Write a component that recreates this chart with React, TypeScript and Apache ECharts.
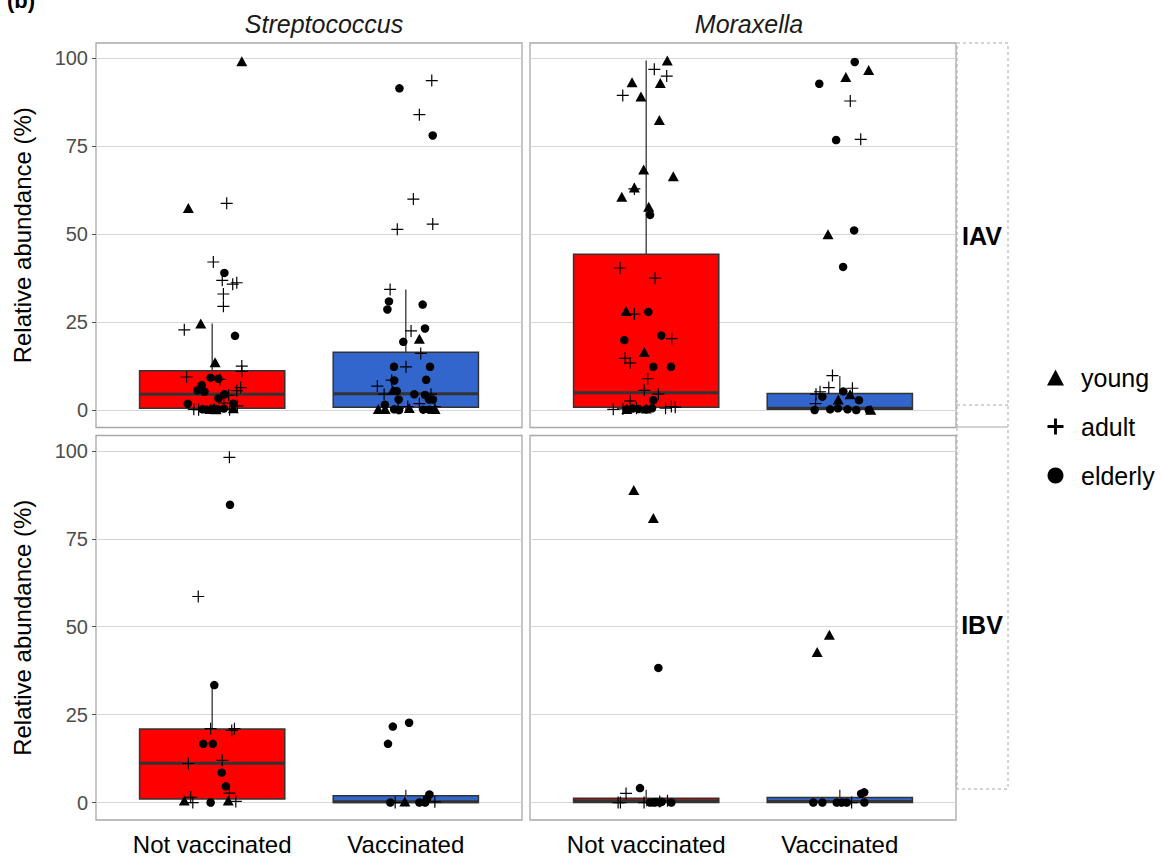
import React, { useEffect, useRef } from 'react';
import * as echarts from 'echarts';

// ---------- data ----------
const categories = ['Not vaccinated', 'Vaccinated'];
const genera = ['Streptococcus', 'Moraxella'];
const viruses = ['IAV', 'IBV'];
const ageGroups = ['young', 'adult', 'elderly'];
const yTicks = [0, 25, 50, 75, 100];
const boxColors = ['#FF0000', '#3366CC'];

// box stats: [category position, lower whisker, Q1, median, Q3, upper whisker]
const strepIAVBox = [[1, 0, 0.5, 4.5, 11.2, 24.6], [2, 0, 0.8, 4.6, 16.4, 34.3]];
const moraxIAVBox = [[1, 0, 0.8, 4.9, 44.3, 99.4], [2, 0, 0.2, 0.5, 4.7, 9.7]];
const strepIBVBox = [[1, 0, 1.0, 11.2, 20.9, 33.5], [2, 0, 0, 0.2, 1.9, 3.6]];
const moraxIBVBox = [[1, 0, 0, 0.4, 1.2, 3.6], [2, 0, 0, 0.3, 1.4, 3.6]];

// jittered points: [x position (category ± jitter), relative abundance %]
const strepIAVYoung = [[1.153, 99.2], [0.877, 57.5], [0.941, 24.6], [1.015, 13.6], [0.99, 0.3], [1.01, 0.6], [1.02, 0.2], [1.109, 0.5],
  [2.07, 20.3], [1.933, 5.7], [1.858, 0.3], [1.893, 0.3], [2.018, 0.6], [2.151, 0.3]];
const strepIAVAdult = [[1.075, 58.8], [1.006, 42.1], [1.052, 36.9], [1.106, 35.8], [1.127, 36.2], [1.058, 33.0], [1.058, 29.5], [0.856, 22.8],
  [1.153, 12.5], [1.153, 11.0], [0.868, 9.4], [1.04, 8.7], [1.147, 6.4], [1.127, 5.5], [1.085, 4.2], [0.905, 0.2], [0.93, 0.1], [1.06, 2.0],
  [1.09, 0.1], [1.13, 1.2],
  [2.134, 93.7], [2.07, 84.0], [2.039, 60.0], [2.139, 52.9], [1.956, 51.4], [1.919, 34.3], [2.027, 22.5], [2.077, 16.1], [2.001, 12.3],
  [1.927, 8.5], [1.853, 6.8], [1.888, 4.5], [2.13, 4.5], [2.01, 1.0], [2.15, 1.0], [2.07, 1.8], [1.96, 0.5]];
const strepIAVElderly = [[1.063, 39.0], [1.118, 21.1], [0.992, 9.2], [1.032, 8.9], [0.946, 7.1], [0.923, 5.6], [0.96, 5.2], [1.063, 4.5],
  [1.032, 3.3], [0.874, 1.8], [1.109, 1.8], [0.95, 0.2], [0.97, 0.1], [1.0, 0.3], [1.03, 0.2], [1.06, 0.4],
  [1.967, 91.5], [2.139, 78.1], [1.913, 30.9], [2.087, 30.0], [1.905, 28.6], [2.099, 23.2], [1.987, 19.4], [1.939, 12.3], [2.125, 12.3],
  [2.105, 8.6], [1.94, 8.4], [1.953, 5.4], [2.044, 4.5], [2.099, 4.3], [1.963, 3.0], [2.12, 3.0], [2.14, 3.0], [1.892, 1.5], [1.94, 0.2],
  [1.965, 0], [2.09, 0.1], [2.12, 0.1]];

const moraxIAVYoung = [[1.109, 99.4], [0.927, 93.2], [1.073, 93.0], [0.973, 89.2], [1.068, 82.5], [0.987, 68.4], [1.14, 66.5], [0.939, 63.3],
  [0.874, 60.7], [1.013, 57.8], [0.896, 28.2], [0.99, 16.5], [0.9, 0.3], [1.0, 0.4],
  [2.149, 96.7], [2.031, 94.7], [1.939, 50.0], [1.992, 3.0], [2.053, 4.5], [2.16, 0.1]];
const moraxIAVAdult = [[1.042, 96.9], [1.106, 95.0], [0.879, 89.5], [0.939, 62.9], [0.865, 40.4], [1.046, 37.5], [0.939, 27.3], [1.132, 20.3],
  [0.891, 14.7], [0.917, 13.4], [1.008, 8.9], [0.99, 5.6], [1.063, 4.5], [0.917, 2.6], [0.83, 0.2], [0.88, 0.3], [0.95, 0.5], [1.1, 0.5],
  [1.13, 1.0], [1.15, 0.8],
  [2.054, 87.9], [2.108, 77.0], [1.962, 9.8], [1.943, 6.4], [1.898, 5.2], [2.065, 6.2], [1.877, 4.5], [1.875, 1.8]];
const moraxIAVElderly = [[1.02, 55.5], [1.011, 27.9], [0.887, 19.9], [1.078, 21.2], [1.037, 12.3], [1.128, 12.3], [1.037, 2.8], [0.9, 0.2],
  [0.93, 0.4], [0.96, 0.3], [1.0, 0.2], [1.03, 0.5],
  [2.077, 99.0], [1.894, 92.8], [1.981, 76.8], [2.074, 51.1], [2.017, 40.7], [2.018, 5.3], [1.91, 3.8], [2.099, 2.8], [1.87, 0.0],
  [1.95, 0.2], [1.99, 0.5], [2.04, 0.2], [2.085, 0], [2.15, 0]];

const strepIBVYoung = [[0.856, 0.6], [1.083, 0.6], [1.995, 0.3]];
const strepIBVAdult = [[1.089, 98.2], [0.928, 58.6], [0.992, 21.0], [1.101, 20.5], [1.115, 21.0], [0.877, 11.1], [1.052, 12.0], [1.089, 2.7],
  [0.889, 1.5], [1.122, 0.3], [0.9, 0.0], [1.945, 0], [2.15, 0.2]];
const strepIBVElderly = [[1.092, 84.7], [1.011, 33.4], [0.954, 16.7], [1.003, 16.7], [1.049, 8.5], [1.071, 4.6], [0.992, 0],
  [1.933, 21.6], [2.017, 22.7], [1.908, 16.7], [2.122, 2.3], [1.92, 0], [2.07, 0], [2.1, 0], [2.11, 1.2]];

const moraxIBVYoung = [[0.936, 88.9], [1.037, 80.9], [1.946, 47.7], [1.883, 42.8]];
const moraxIBVAdult = [[0.896, 2.6], [0.855, 0], [0.867, 0], [0.989, 0], [1.11, 0.5], [1.07, 0.3], [2.061, 0]];
const moraxIBVElderly = [[1.063, 38.3], [0.968, 4.1], [1.02, 0], [1.04, 0], [1.05, 0.1], [1.07, 0], [1.08, 0.2], [1.13, 0],
  [2.126, 2.9], [2.11, 2.5], [1.863, 0], [1.91, 0], [1.984, 0], [2.01, 0], [2.036, 0], [2.127, 0]];

const panels = [
  { box: strepIAVBox, young: strepIAVYoung, adult: strepIAVAdult, elderly: strepIAVElderly },
  { box: moraxIAVBox, young: moraxIAVYoung, adult: moraxIAVAdult, elderly: moraxIAVElderly },
  { box: strepIBVBox, young: strepIBVYoung, adult: strepIBVAdult, elderly: strepIBVElderly },
  { box: moraxIBVBox, young: moraxIBVYoung, adult: moraxIBVAdult, elderly: moraxIBVElderly },
];

// ---------- styling ----------
const FONT = '"Liberation Sans", Arial, Helvetica, sans-serif';
const PLUS = 'path://M0,9H20V11H0ZM9,0H11V20H9Z';
const PLUS_LEGEND = 'path://M0,8.2H20V11.8H0ZM8.2,0H11.8V20H8.2Z';
const symbols: Record<string, any> = { young: 'triangle', adult: PLUS, elderly: 'circle' };
const symbolSizes: Record<string, any> = { young: [11, 10], adult: 12, elderly: 8.5 };

const gridPos = [
  { left: 96, top: 43 },
  { left: 530, top: 43 },
  { left: 96, top: 435.5 },
  { left: 530, top: 435.5 },
];
const GW = 426;
const GH = 384.5;

export default function App() {
  const ref = useRef<HTMLDivElement>(null);
  useEffect(() => {
    if (!ref.current) return;
    const chart = echarts.init(ref.current, null, { renderer: 'svg' });

    const grids = gridPos.map((g) => ({
      left: g.left, top: g.top, width: GW, height: GH,
      show: true, borderColor: '#A8A8A8', borderWidth: 1.3, backgroundColor: 'transparent',
    }));

    const xAxes = gridPos.map((_, i) => {
      const bottom = i >= 2;
      return {
        type: 'value', gridIndex: i, min: 0.4, max: 2.6,
        axisLine: { show: false },
        splitLine: { show: false },
        axisTick: { show: bottom, customValues: [1, 2], length: 4, lineStyle: { color: '#4D4D4D', width: 1 } },
        axisLabel: {
          show: bottom, customValues: [1, 2], margin: 12,
          formatter: (v: number) => categories[Math.round(v) - 1] ?? '',
          fontSize: 24, color: '#000', fontFamily: FONT,
        },
      };
    });

    const yAxes = gridPos.map((_, i) => {
      const left = i % 2 === 0;
      return {
        type: 'value', gridIndex: i, min: -4.97, max: 104.4,
        axisLine: { show: false },
        axisTick: { show: left, customValues: yTicks, length: 4, lineStyle: { color: '#4D4D4D', width: 1 } },
        axisLabel: { show: left, customValues: yTicks, margin: 8, fontSize: 20, color: '#4D4D4D', fontFamily: FONT },
        splitLine: { show: true, lineStyle: { color: '#D6D6D6', width: 1.2 } },
        name: left ? 'Relative abundance (%)' : '',
        nameLocation: 'middle', nameGap: 62,
        nameTextStyle: { fontSize: 24, color: '#000', fontFamily: FONT },
      };
    });

    const series: any[] = [];
    panels.forEach((p, i) => {
      series.push({
        type: 'custom', xAxisIndex: i, yAxisIndex: i, z: 2,
        encode: { x: 0, y: [1, 2, 3, 4, 5] },
        data: p.box,
        renderItem: (_params: any, api: any) => {
          const x = api.value(0);
          const lo = api.value(1), q1 = api.value(2), med = api.value(3), q3 = api.value(4), hi = api.value(5);
          const half = 0.375;
          const tl = api.coord([x - half, q3]);
          const br = api.coord([x + half, q1]);
          const mL = api.coord([x - half, med]);
          const mR = api.coord([x + half, med]);
          const pHi = api.coord([x, hi]);
          const pQ3 = api.coord([x, q3]);
          const pQ1 = api.coord([x, q1]);
          const pLo = api.coord([x, lo]);
          const color = boxColors[Math.round(x) - 1];
          return {
            type: 'group',
            children: [
              { type: 'line', shape: { x1: pHi[0], y1: pHi[1], x2: pQ3[0], y2: pQ3[1] }, style: { stroke: '#333333', lineWidth: 1.3 } },
              { type: 'line', shape: { x1: pQ1[0], y1: pQ1[1], x2: pLo[0], y2: pLo[1] }, style: { stroke: '#333333', lineWidth: 1.3 } },
              { type: 'rect', shape: { x: tl[0], y: tl[1], width: br[0] - tl[0], height: br[1] - tl[1] }, style: { fill: color, stroke: '#333333', lineWidth: 1.5 } },
              { type: 'line', shape: { x1: mL[0], y1: mL[1], x2: mR[0], y2: mR[1] }, style: { stroke: '#333333', lineWidth: 3 } },
            ],
          };
        },
      });
      ageGroups.forEach((g) => {
        series.push({
          type: 'scatter', name: g, xAxisIndex: i, yAxisIndex: i, z: 3,
          symbol: symbols[g], symbolSize: symbolSizes[g],
          itemStyle: { color: '#000', opacity: 1 },
          data: (p as any)[g],
          silent: true,
        });
      });
    });

    const dash = { stroke: '#A6A6A6', lineWidth: 1, lineDash: [3, 3], fill: 'none' };

    const option: any = {
      animation: false,
      backgroundColor: '#ffffff',
      grid: grids,
      xAxis: xAxes,
      yAxis: yAxes,
      legend: {
        orient: 'vertical', left: 1042, top: 359,
        itemWidth: 17, itemHeight: 16, itemGap: 22,
        selectedMode: false,
        textStyle: { fontSize: 25, color: '#000', fontFamily: FONT, lineHeight: 27, padding: [0, 0, 0, 12] },
        data: [
          { name: 'young', icon: 'triangle' },
          { name: 'adult', icon: PLUS_LEGEND },
          { name: 'elderly', icon: 'circle' },
        ],
      },
      graphic: [
        { type: 'text', left: 7, top: -11, style: { text: '(b)', font: `bold 22px ${FONT}`, fill: '#000' } },
        { type: 'text', x: 324, y: 24, style: { text: genera[0], font: `italic 25px ${FONT}`, fill: '#1A1A1A', align: 'center', verticalAlign: 'middle' } },
        { type: 'text', x: 749, y: 24, style: { text: genera[1], font: `italic 25px ${FONT}`, fill: '#1A1A1A', align: 'center', verticalAlign: 'middle' } },
        { type: 'rect', shape: { x: 957, y: 43, width: 51, height: 384 }, style: dash, silent: true },
        { type: 'line', shape: { x1: 957, y1: 405, x2: 1008, y2: 405 }, style: dash, silent: true },
        { type: 'rect', shape: { x: 957, y: 427, width: 51, height: 362 }, style: dash, silent: true },
        { type: 'text', x: 982, y: 236, style: { text: viruses[0], font: `bold 25px ${FONT}`, fill: '#000', align: 'center', verticalAlign: 'middle' } },
        { type: 'text', x: 982, y: 625, style: { text: viruses[1], font: `bold 25px ${FONT}`, fill: '#000', align: 'center', verticalAlign: 'middle' } },
      ],
      series,
    };
    chart.setOption(option);
    return () => chart.dispose();
  }, []);

  return (
    <div
      ref={ref}
      style={{ position: 'absolute', left: 0, top: 0, width: 1162, height: 859, background: '#fff' }}
    />
  );
}
